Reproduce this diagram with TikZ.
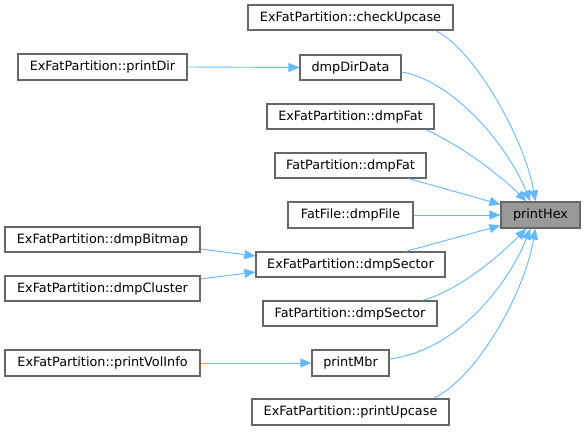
\documentclass[tikz,border=0pt]{standalone}
\usepackage{fontspec}
\setmainfont{DejaVu Sans}
\usetikzlibrary{arrows.meta}
\definecolor{edgeblue}{HTML}{63B8FF}
\definecolor{boxline}{HTML}{666666}
\definecolor{hexfill}{HTML}{999999}
\begin{document}
\begin{tikzpicture}[x=1pt,y=-1pt,
  fn/.style={draw=boxline,line width=1.2pt,fill=white,inner sep=0pt,
    font=\fontsize{12.8}{15}\selectfont,text=black},
  dep/.style={draw=edgeblue,line width=0.9pt,
    -{Triangle[length=11pt,width=9pt,fill=edgeblue]}}]
\useasboundingbox (0,0) rectangle (585,431);
\node[fn,minimum width=205pt,minimum height=25pt] (ck)  at (350.5,17.5) {ExFatPartition::checkUpcase};
\node[fn,minimum width=101pt,minimum height=25pt] (dd)  at (350.5,67.5) {dmpDirData};
\node[fn,minimum width=169pt,minimum height=26pt] (pd)  at (102.5,67)   {ExFatPartition::printDir};
\node[fn,minimum width=167pt,minimum height=25pt] (edf) at (350.5,116.5) {ExFatPartition::dmpFat};
\node[fn,minimum width=151pt,minimum height=25pt] (fdf) at (350.5,165.5) {FatPartition::dmpFat};
\node[fn,minimum width=125pt,minimum height=26pt] (dfl) at (350.5,215)  {FatFile::dmpFile};
\node[fn,minimum width=79pt,minimum height=26pt,fill=hexfill] (ph) at (540.5,215) {printHex};
\node[fn,minimum width=189pt,minimum height=25pt] (eds) at (350.5,264.5) {ExFatPartition::dmpSector};
\node[fn,minimum width=195pt,minimum height=25pt] (bm)  at (102.5,239.5) {ExFatPartition::dmpBitmap};
\node[fn,minimum width=195pt,minimum height=25pt] (cl)  at (102.5,288.5) {ExFatPartition::dmpCluster};
\node[fn,minimum width=174pt,minimum height=25pt] (fds) at (350,313.5)  {FatPartition::dmpSector};
\node[fn,minimum width=77pt,minimum height=26pt]  (mbr) at (350.5,363)  {printMbr};
\node[fn,minimum width=195pt,minimum height=26pt] (vi)  at (102.5,363)  {ExFatPartition::printVolInfo};
\node[fn,minimum width=197pt,minimum height=26pt] (up)  at (350.5,412)  {ExFatPartition::printUpcase};

\draw[dep] ([xshift=-18pt]ck.south east) .. controls (475,50) and (525,140) .. ([xshift=35pt]ph.north west);
\draw[dep] ([yshift=-4.5pt]dd.east) .. controls (450,80) and (505,140) .. ([xshift=30pt]ph.north west);
\draw[dep] ([xshift=-9pt]edf.south east) .. controls (460,145) and (500,175) .. ([xshift=26pt]ph.north west);
\draw[dep] ([xshift=-18pt]fdf.south east) -- ([yshift=-3pt]ph.north west);
\draw[dep] (dfl.east) -- (ph.west);
\draw[dep] ([xshift=-40pt]eds.north east) -- ([yshift=3pt]ph.south west);
\draw[dep] ([xshift=-15pt]fds.north east) .. controls (460,290) and (500,255) .. ([xshift=26pt]ph.south west);
\draw[dep] ([yshift=4pt]mbr.east) .. controls (460,350) and (510,280) .. ([xshift=30pt]ph.south west);
\draw[dep] ([xshift=-16pt]up.north east) .. controls (480,375) and (525,290) .. ([xshift=35pt]ph.south west);
\draw[dep] (pd.east) -- (dd.west);
\draw[dep] ([yshift=-9.5pt]bm.east) -- ([yshift=8.5pt]eds.west);
\draw[dep] ([yshift=9.5pt]cl.east) -- ([yshift=-7.5pt]eds.west);
\draw[dep] (vi.east) -- (mbr.west);
\end{tikzpicture}
\end{document}
